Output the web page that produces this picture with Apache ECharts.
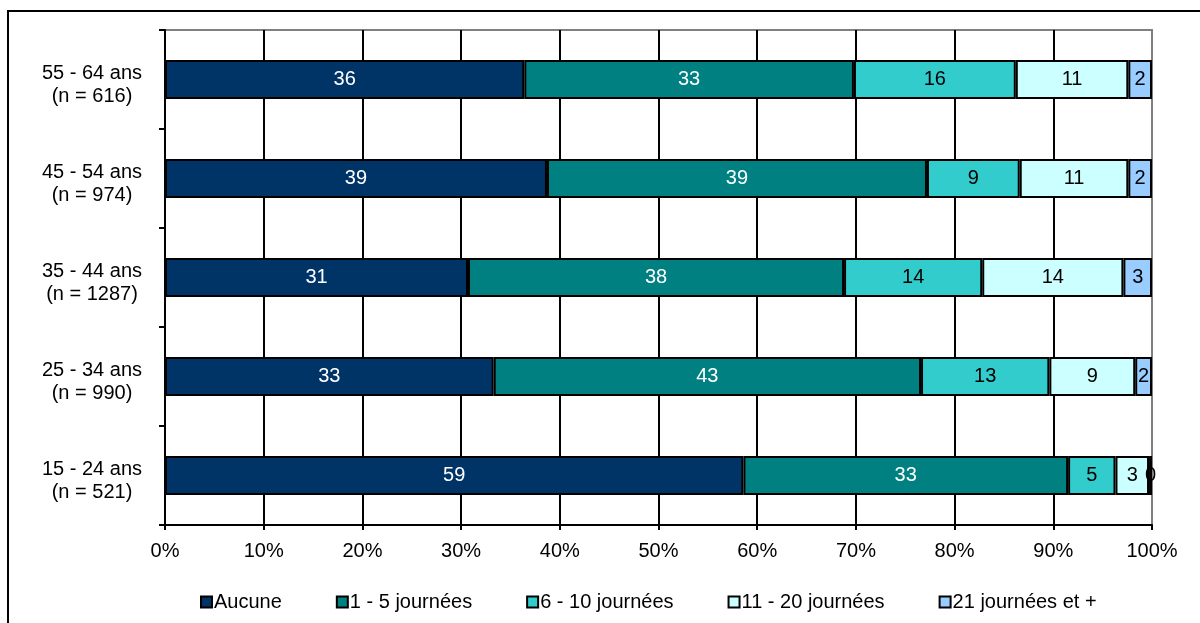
<!DOCTYPE html>
<html>
<head>
<meta charset="utf-8">
<script src="https://cdn.jsdelivr.net/npm/echarts@6/dist/echarts.min.js"></script>
<style>
html,body{margin:0;padding:0;background:#fff;}
#c{width:1200px;height:623px;}
</style>
</head>
<body>
<div id="c"></div>
<script>
// Categories from bottom to top (ECharts category y axis starts at the bottom)
var categories = ['15 - 24 ans\n(n = 521)', '25 - 34 ans\n(n = 990)', '35 - 44 ans\n(n = 1287)', '45 - 54 ans\n(n = 974)', '55 - 64 ans\n(n = 616)'];
var seriesNames = ['Aucune', '1 - 5 journées', '6 - 10 journées', '11 - 20 journées', '21 journées et +'];
var aucune = [58.6, 33.3, 30.7, 38.7, 36.4];
var j1_5 = [32.9, 43.3, 38.1, 38.5, 33.4];
var j6_10 = [4.8, 13.0, 14.0, 9.4, 16.4];
var j11_20 = [3.4, 8.7, 14.3, 11.0, 11.4];
var j21plus = [0.3, 1.7, 2.9, 2.4, 2.4];
var xTicks = [0, 10, 20, 30, 40, 50, 60, 70, 80, 90, 100];

var colors = ['#003366', '#008080', '#33CCCC', '#CCFFFF', '#99CCFF'];
var labelColors = ['#ffffff', '#ffffff', '#000000', '#000000', '#000000'];
var seriesData = [aucune, j1_5, j6_10, j11_20, j21plus];
var FONT = "'Liberation Sans', Arial, sans-serif";

var chart = echarts.init(document.getElementById('c'), null, {renderer: 'canvas'});
var series = seriesNames.map(function (name, i) {
  return {
    name: name,
    type: 'bar',
    stack: 'total',
    barWidth: 39,
    data: seriesData[i],
    itemStyle: {color: colors[i], borderColor: '#000', borderWidth: 2},
    label: {
      show: true,
      position: 'inside',
      color: labelColors[i],
      fontFamily: FONT,
      fontSize: 20,
      formatter: function (p) { return Math.round(p.value); }
    },
    emphasis: {disabled: true}
  };
});

chart.setOption({
  animation: false,
  backgroundColor: '#ffffff',
  textStyle: {fontFamily: FONT},
  graphic: [{
    type: 'rect',
    shape: {x: 8, y: 11, width: 1400, height: 800},
    style: {fill: null, stroke: '#000', lineWidth: 2},
    silent: true,
    z: 100
  }],
  grid: {
    left: 165, right: 48, top: 30, bottom: 98,
    show: true, borderColor: '#808080', borderWidth: 2, backgroundColor: 'transparent'
  },
  legend: {
    left: 195,
    top: 587,
    itemWidth: 11,
    itemHeight: 11,
    itemGap: 54,
    icon: 'rect',
    textStyle: {fontFamily: FONT, fontSize: 20, color: '#000', padding: [0, 0, 0, -3]},
    data: seriesNames
  },
  xAxis: {
    type: 'value',
    min: xTicks[0],
    max: xTicks[xTicks.length - 1],
    interval: 10,
    axisLine: {show: true, lineStyle: {color: '#000', width: 2}},
    axisTick: {show: true, length: 5, lineStyle: {color: '#000', width: 2}},
    axisLabel: {
      margin: 16,
      color: '#000',
      fontFamily: FONT,
      fontSize: 20,
      formatter: function (v) { return v + '%'; }
    },
    splitLine: {show: true, showMinLine: false, showMaxLine: false, lineStyle: {color: '#000', width: 2}}
  },
  yAxis: {
    type: 'category',
    data: categories,
    axisLine: {show: true, lineStyle: {color: '#000', width: 2}},
    axisTick: {show: true, length: 6, alignWithLabel: false, lineStyle: {color: '#000', width: 2}},
    axisLabel: {
      align: 'center',
      margin: 73,
      color: '#000',
      fontFamily: FONT,
      fontSize: 20,
      formatter: function (v) {
        var parts = v.split('\n');
        return '{s| }\n{a|' + parts[0] + '}\n{a|' + parts[1] + '}';
      },
      rich: {
        s: {fontSize: 2, lineHeight: 10},
        a: {fontFamily: FONT, fontSize: 20, color: '#000', lineHeight: 23}
      }
    },
    splitLine: {show: false}
  },
  series: series
});
</script>
</body>
</html>
